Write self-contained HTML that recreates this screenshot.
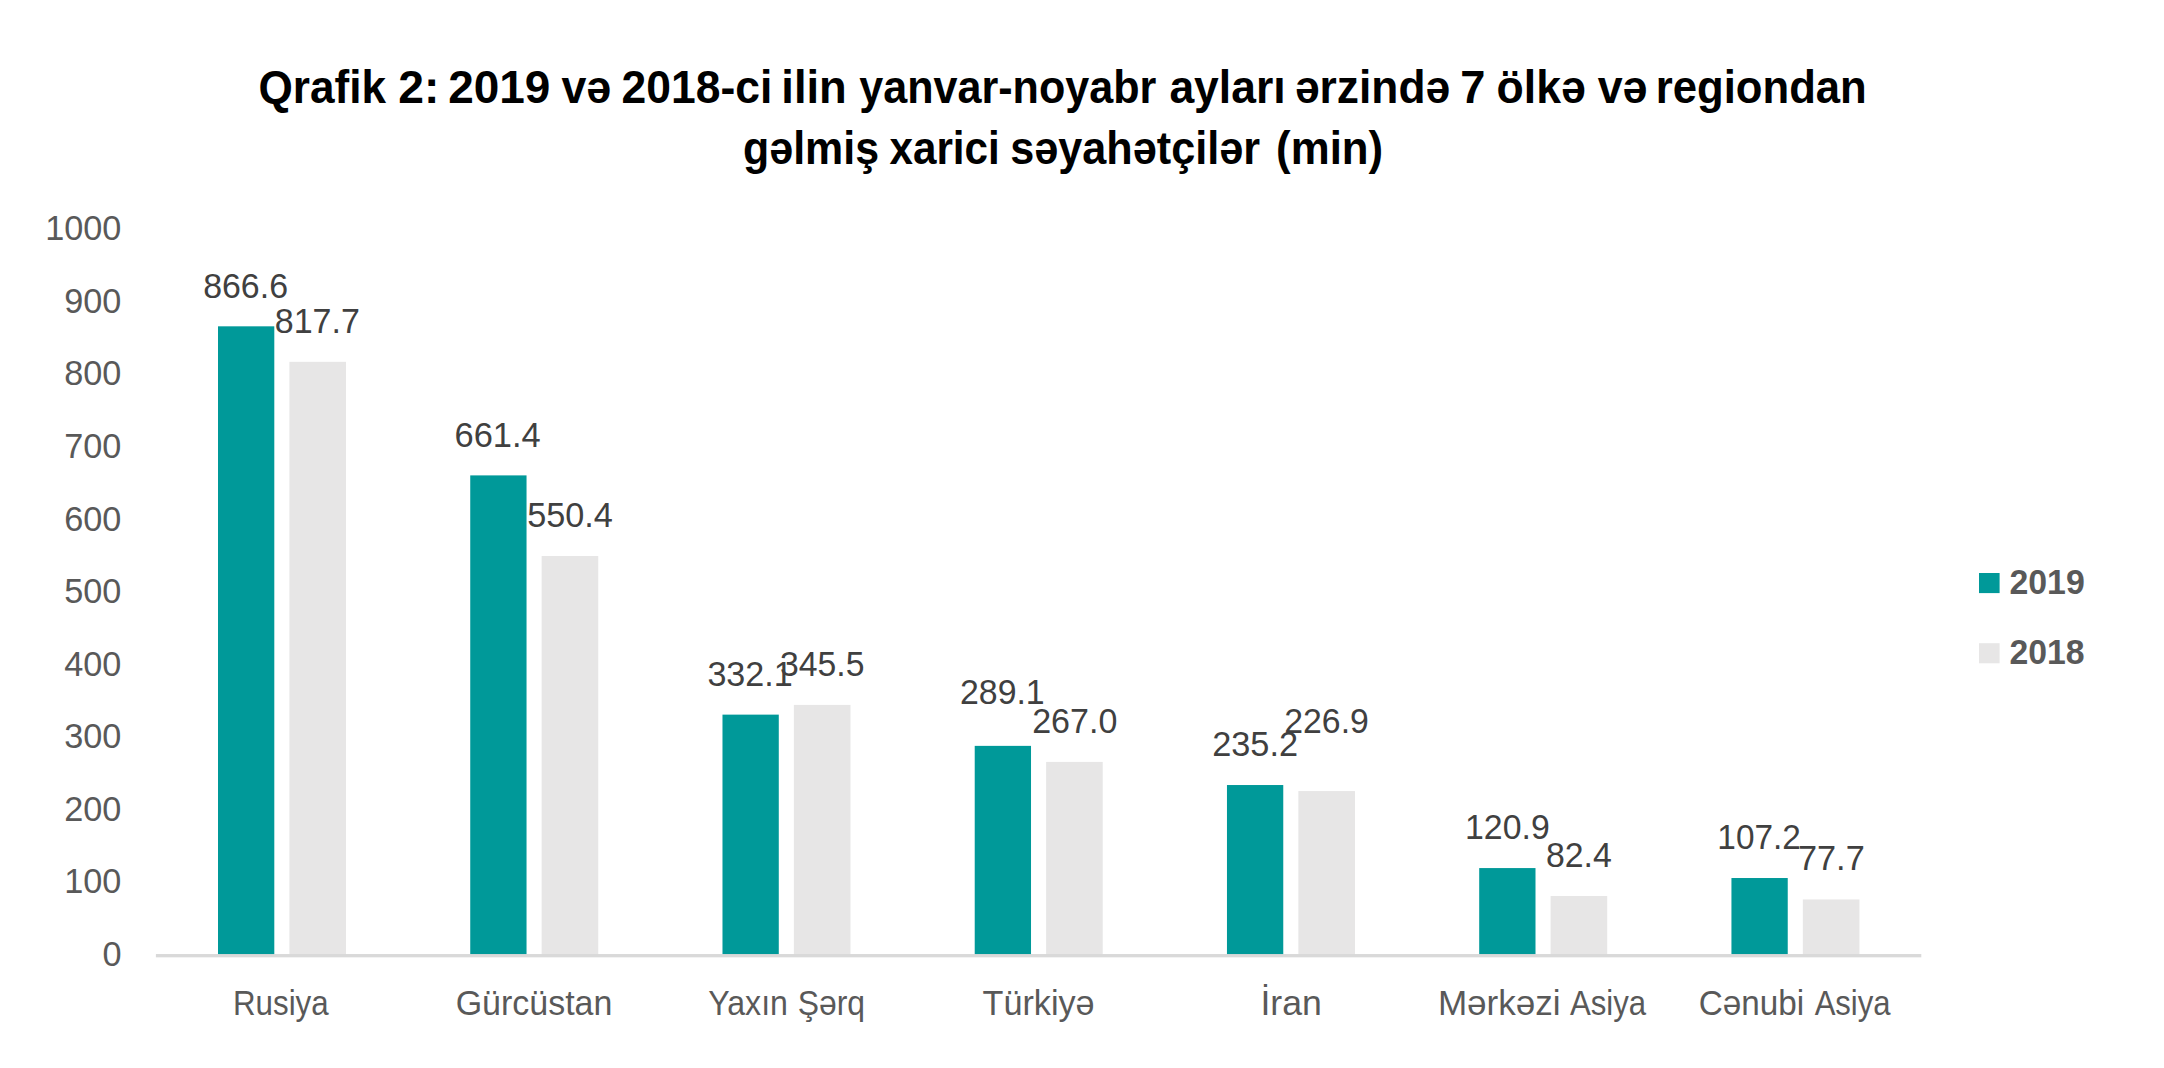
<!DOCTYPE html>
<html lang="az">
<head>
<meta charset="utf-8">
<title>Qrafik 2</title>
<style>
html,body{margin:0;padding:0;background:#fff;}
body{width:2164px;height:1068px;overflow:hidden;}
svg{display:block;}
text{font-family:"Liberation Sans", sans-serif;}
</style>
</head>
<body>
<svg width="2164" height="1068" viewBox="0 0 2164 1068">
<rect x="0" y="0" width="2164" height="1068" fill="#ffffff"/>
<g shape-rendering="geometricPrecision">
<rect x="218" y="326.32" width="56.3" height="629.58" fill="#009999"/>
<rect x="289.4" y="361.84" width="56.6" height="594.06" fill="#e7e6e6"/>
<rect x="470.24" y="475.39" width="56.3" height="480.51" fill="#009999"/>
<rect x="541.64" y="556.03" width="56.6" height="399.87" fill="#e7e6e6"/>
<rect x="722.48" y="714.63" width="56.3" height="241.27" fill="#009999"/>
<rect x="793.88" y="704.89" width="56.6" height="251.01" fill="#e7e6e6"/>
<rect x="974.72" y="745.87" width="56.3" height="210.03" fill="#009999"/>
<rect x="1046.12" y="761.92" width="56.6" height="193.98" fill="#e7e6e6"/>
<rect x="1226.96" y="785.03" width="56.3" height="170.87" fill="#009999"/>
<rect x="1298.36" y="791.06" width="56.6" height="164.84" fill="#e7e6e6"/>
<rect x="1479.2" y="868.07" width="56.3" height="87.83" fill="#009999"/>
<rect x="1550.6" y="896.04" width="56.6" height="59.86" fill="#e7e6e6"/>
<rect x="1731.44" y="878.02" width="56.3" height="77.88" fill="#009999"/>
<rect x="1802.84" y="899.45" width="56.6" height="56.45" fill="#e7e6e6"/>
<rect x="155.9" y="954.05" width="1765.4" height="3.3" fill="#d9d9d9"/>
<rect x="1979" y="573" width="20.6" height="20.1" fill="#009999"/>
<rect x="1979" y="643.2" width="20.6" height="20.1" fill="#e7e6e6"/>
</g>
<text x="102.38" y="966.05" font-size="34.6" font-weight="400" fill="#595959" textLength="19.06" lengthAdjust="spacingAndGlyphs">0</text>
<text x="64.25" y="893.46" font-size="34.6" font-weight="400" fill="#595959" textLength="57.19" lengthAdjust="spacingAndGlyphs">100</text>
<text x="64.25" y="820.87" font-size="34.6" font-weight="400" fill="#595959" textLength="57.19" lengthAdjust="spacingAndGlyphs">200</text>
<text x="64.25" y="748.28" font-size="34.6" font-weight="400" fill="#595959" textLength="57.19" lengthAdjust="spacingAndGlyphs">300</text>
<text x="64.25" y="675.69" font-size="34.6" font-weight="400" fill="#595959" textLength="57.19" lengthAdjust="spacingAndGlyphs">400</text>
<text x="64.25" y="603.1" font-size="34.6" font-weight="400" fill="#595959" textLength="57.19" lengthAdjust="spacingAndGlyphs">500</text>
<text x="64.25" y="530.51" font-size="34.6" font-weight="400" fill="#595959" textLength="57.19" lengthAdjust="spacingAndGlyphs">600</text>
<text x="64.25" y="457.92" font-size="34.6" font-weight="400" fill="#595959" textLength="57.19" lengthAdjust="spacingAndGlyphs">700</text>
<text x="64.25" y="385.33" font-size="34.6" font-weight="400" fill="#595959" textLength="57.19" lengthAdjust="spacingAndGlyphs">800</text>
<text x="64.25" y="312.74" font-size="34.6" font-weight="400" fill="#595959" textLength="57.19" lengthAdjust="spacingAndGlyphs">900</text>
<text x="45.19" y="240.15" font-size="34.6" font-weight="400" fill="#595959" textLength="76.25" lengthAdjust="spacingAndGlyphs">1000</text>
<text y="103" font-size="45.5" font-weight="700" fill="#000000"><tspan x="258.49" textLength="127.47" lengthAdjust="spacingAndGlyphs">Qrafik</tspan> <tspan x="398.3" textLength="41.16" lengthAdjust="spacingAndGlyphs">2:</tspan> <tspan x="448.21" textLength="102.2" lengthAdjust="spacingAndGlyphs">2019</tspan> <tspan x="561.43" textLength="49.8" lengthAdjust="spacingAndGlyphs">və</tspan> <tspan x="621.56" textLength="150.69" lengthAdjust="spacingAndGlyphs">2018-ci</tspan> <tspan x="781.33" textLength="65.48" lengthAdjust="spacingAndGlyphs">ilin</tspan> <tspan x="859.36" textLength="296.89" lengthAdjust="spacingAndGlyphs">yanvar-noyabr</tspan> <tspan x="1169.4" textLength="116.21" lengthAdjust="spacingAndGlyphs">ayları</tspan> <tspan x="1294.97" textLength="155.15" lengthAdjust="spacingAndGlyphs">ərzində</tspan> <tspan x="1460.16" textLength="25.13" lengthAdjust="spacingAndGlyphs">7</tspan> <tspan x="1496.56" textLength="89.16" lengthAdjust="spacingAndGlyphs">ölkə</tspan> <tspan x="1597.63" textLength="49.8" lengthAdjust="spacingAndGlyphs">və</tspan> <tspan x="1655.72" textLength="211.09" lengthAdjust="spacingAndGlyphs">regiondan</tspan></text>
<text y="164" font-size="45.5" font-weight="700" fill="#000000"><tspan x="743.04" textLength="136.02" lengthAdjust="spacingAndGlyphs">gəlmiş</tspan> <tspan x="889.51" textLength="110.28" lengthAdjust="spacingAndGlyphs">xarici</tspan> <tspan x="1010.28" textLength="249.77" lengthAdjust="spacingAndGlyphs">səyahətçilər</tspan> <tspan x="1276.12" textLength="107.06" lengthAdjust="spacingAndGlyphs">(min)</tspan></text>
<text x="232.93" y="1014.6" font-size="34.3" font-weight="400" fill="#595959" textLength="95.77" lengthAdjust="spacingAndGlyphs">Rusiya</text>
<text x="455.69" y="1014.6" font-size="34.3" font-weight="400" fill="#595959" textLength="156.71" lengthAdjust="spacingAndGlyphs">Gürcüstan</text>
<text y="1014.6" font-size="34.3" font-weight="400" fill="#595959"><tspan x="708.19" textLength="79.79" lengthAdjust="spacingAndGlyphs">Yaxın</tspan> <tspan x="797.75" textLength="67.28" lengthAdjust="spacingAndGlyphs">Şərq</tspan></text>
<text x="982.53" y="1014.6" font-size="34.3" font-weight="400" fill="#595959" textLength="112.09" lengthAdjust="spacingAndGlyphs">Türkiyə</text>
<text x="1260.41" y="1014.6" font-size="34.3" font-weight="400" fill="#595959" textLength="61.4" lengthAdjust="spacingAndGlyphs">İran</text>
<text y="1014.6" font-size="34.3" font-weight="400" fill="#595959"><tspan x="1437.92" textLength="122.74" lengthAdjust="spacingAndGlyphs">Mərkəzi</tspan> <tspan x="1569.94" textLength="76.26" lengthAdjust="spacingAndGlyphs">Asiya</tspan></text>
<text y="1014.6" font-size="34.3" font-weight="400" fill="#595959"><tspan x="1698.81" textLength="105.43" lengthAdjust="spacingAndGlyphs">Cənubi</tspan> <tspan x="1814.64" textLength="75.96" lengthAdjust="spacingAndGlyphs">Asiya</tspan></text>
<text x="203.13" y="297.75" font-size="34.6" font-weight="400" fill="#404040" textLength="84.87" lengthAdjust="spacingAndGlyphs">866.6</text>
<text x="274.72" y="333.1" font-size="34.6" font-weight="400" fill="#404040" textLength="85.09" lengthAdjust="spacingAndGlyphs">817.7</text>
<text x="454.55" y="446.8" font-size="34.6" font-weight="400" fill="#404040" textLength="86.16" lengthAdjust="spacingAndGlyphs">661.4</text>
<text x="527.13" y="526.7" font-size="34.6" font-weight="400" fill="#404040" textLength="85.78" lengthAdjust="spacingAndGlyphs">550.4</text>
<text x="707.4" y="685.9" font-size="34.6" font-weight="400" fill="#404040" textLength="85.37" lengthAdjust="spacingAndGlyphs">332.1</text>
<text x="780.01" y="675.9" font-size="34.6" font-weight="400" fill="#404040" textLength="84.4" lengthAdjust="spacingAndGlyphs">345.5</text>
<text x="960" y="703.5" font-size="34.6" font-weight="400" fill="#404040" textLength="84.66" lengthAdjust="spacingAndGlyphs">289.1</text>
<text x="1032.19" y="732.8" font-size="34.6" font-weight="400" fill="#404040" textLength="85.14" lengthAdjust="spacingAndGlyphs">267.0</text>
<text x="1212.17" y="755.8" font-size="34.6" font-weight="400" fill="#404040" textLength="85.85" lengthAdjust="spacingAndGlyphs">235.2</text>
<text x="1284.3" y="732.6" font-size="34.6" font-weight="400" fill="#404040" textLength="84.5" lengthAdjust="spacingAndGlyphs">226.9</text>
<text x="1465.02" y="838.9" font-size="34.6" font-weight="400" fill="#404040" textLength="84.68" lengthAdjust="spacingAndGlyphs">120.9</text>
<text x="1545.93" y="866.7" font-size="34.6" font-weight="400" fill="#404040" textLength="65.86" lengthAdjust="spacingAndGlyphs">82.4</text>
<text x="1717.36" y="848.9" font-size="34.6" font-weight="400" fill="#404040" textLength="83.52" lengthAdjust="spacingAndGlyphs">107.2</text>
<text x="1797.94" y="869.8" font-size="34.6" font-weight="400" fill="#404040" textLength="66.79" lengthAdjust="spacingAndGlyphs">77.7</text>
<text x="2009.43" y="593.8" font-size="34.6" font-weight="700" fill="#595959" textLength="75.33" lengthAdjust="spacingAndGlyphs">2019</text>
<text x="2009.43" y="664" font-size="34.6" font-weight="700" fill="#595959" textLength="75.11" lengthAdjust="spacingAndGlyphs">2018</text>
</svg>
</body>
</html>
